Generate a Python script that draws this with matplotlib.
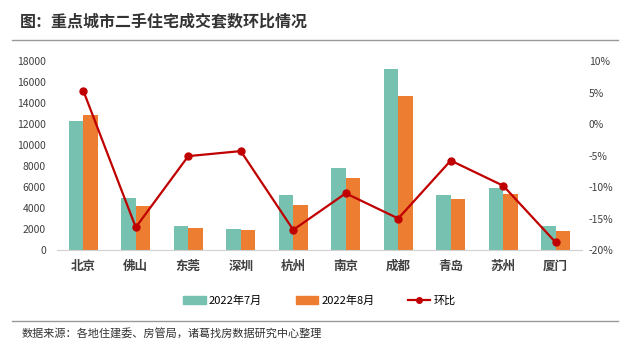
import matplotlib.pyplot as plt
import numpy as np
from matplotlib.lines import Line2D
from matplotlib.patches import Patch

plt.rcParams['font.family'] = ['Noto Sans CJK SC', 'DejaVu Sans']

cities = ['北京', '佛山', '东莞', '深圳', '杭州', '南京', '成都', '青岛', '苏州', '厦门']
jul = [12300, 5000, 2300, 2000, 5200, 7800, 17200, 5200, 5900, 2300]
aug = [12900, 4200, 2100, 1900, 4300, 6900, 14700, 4900, 5300, 1800]
mom = [5.3, -16.4, -5.1, -4.3, -16.8, -11.0, -15.0, -5.8, -9.8, -18.8]

teal = '#76C1B0'
orange = '#ED7D31'
red = '#C00000'
txt = '#404040'

fig = plt.figure(figsize=(6.35, 3.48), dpi=100)
ax = fig.add_axes([0.0898, 0.2816, 0.8267, 0.5431])
x = np.arange(len(cities))
w = 0.28
ax.bar(x - w / 2, jul, w, color=teal)
ax.bar(x + w / 2, aug, w, color=orange)
ax.set_xlim(-0.5, 9.5)
ax.set_ylim(0, 18000)
ax.set_yticks(range(0, 18001, 2000))
ax.set_xticks(x)
ax.set_xticklabels(cities, fontsize=9, fontweight='bold', color=txt)
ax.tick_params(axis='x', length=0, pad=7)
ax.tick_params(axis='y', length=0, labelsize=7.5, labelcolor=txt, pad=8)
for s in ['top', 'right', 'left']:
    ax.spines[s].set_visible(False)
ax.spines['bottom'].set_color('#D0D0D0')

ax2 = ax.twinx()
ax2.plot(x, mom, color=red, lw=1.6, marker='o', ms=5)
ax2.set_ylim(-20, 10)
ax2.set_yticks(range(-20, 11, 5))
ax2.set_yticklabels([f'{v}%' for v in range(-20, 11, 5)])
ax2.tick_params(axis='y', length=0, labelsize=7.5, labelcolor=txt, pad=5)
for s in ax2.spines.values():
    s.set_visible(False)

fig.text(0.032, 0.94, '图：重点城市二手住宅成交套数环比情况', fontsize=11.5,
         fontweight='bold', color='#333333', va='center')
fig.add_artist(Line2D([0.019, 0.973], [0.885, 0.885], color='#999999', lw=1))
fig.add_artist(Line2D([0.019, 0.973], [0.077, 0.077], color='#999999', lw=1))
fig.text(0.034, 0.043, '数据来源：各地住建委、房管局，诸葛找房数据研究中心整理',
         fontsize=8, color='#333333', va='center')

handles = [Patch(color=teal), Patch(color=orange),
           Line2D([0], [0], color=red, lw=1.6, marker='o', ms=4)]
fig.legend(handles, ['2022年7月', '2022年8月', '环比'], loc='center',
           bbox_to_anchor=(0.503, 0.135), ncol=3, frameon=False, fontsize=8,
           handlelength=2.0, handleheight=0.7, columnspacing=3.0, handletextpad=0.3)

fig.savefig('out.png', dpi=100, facecolor='white')
